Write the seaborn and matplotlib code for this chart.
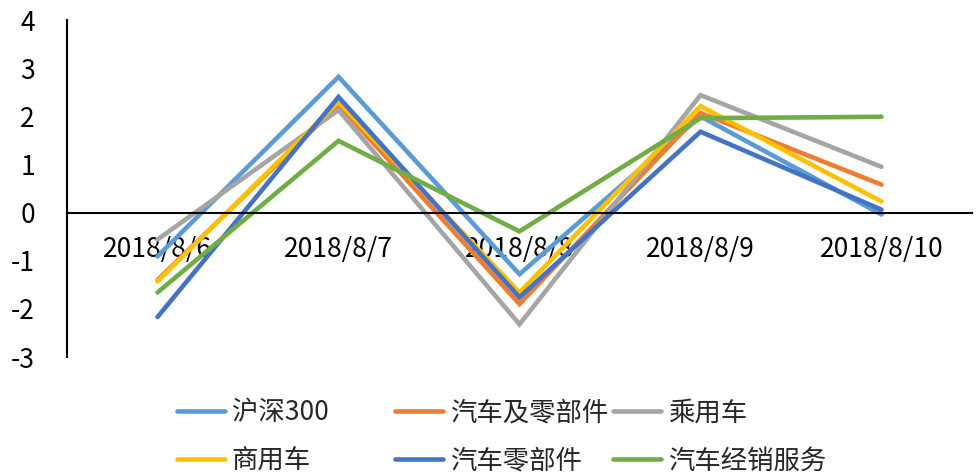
import pandas as pd
import numpy as np
import matplotlib
matplotlib.use('Agg')
import matplotlib.pyplot as plt
import seaborn as sns

# ---data
dates = ['2018/8/6', '2018/8/7', '2018/8/8', '2018/8/9', '2018/8/10']
series_names = ['沪深300', '汽车及零部件', '乘用车', '商用车', '汽车零部件', '汽车经销服务']

hs300 = [-0.91, 2.82, -1.28, 2.00, -0.04]
auto_parts_all = [-1.40, 2.24, -1.90, 2.07, 0.58]
passenger = [-0.56, 2.13, -2.32, 2.44, 0.95]
commercial = [-1.43, 2.30, -1.66, 2.21, 0.23]
auto_parts = [-2.17, 2.40, -1.76, 1.68, 0.06]
dealers = [-1.66, 1.49, -0.39, 1.96, 1.99]

colors = ['#5B9BD5', '#ED7D31', '#A5A5A5', '#FFC000', '#4472C4', '#70AD47']

all_values = [hs300, auto_parts_all, passenger, commercial, auto_parts, dealers]
rows = []
for name, vals in zip(series_names, all_values):
    for d, v in zip(dates, vals):
        rows.append({'date': d, 'series': name, 'value': v})
df = pd.DataFrame(rows)

sns.set_style('white')
plt.rcParams['font.family'] = ['Noto Sans CJK SC', 'DejaVu Sans']
plt.rcParams['axes.unicode_minus'] = False

fig = plt.figure(figsize=(9.78, 4.74), dpi=100)
ax = fig.add_axes([67 / 978, 1 - 357 / 474, (972 - 67) / 978, (357 - 20) / 474])

sns.lineplot(data=df, x='date', y='value', hue='series', hue_order=series_names,
             palette=colors, linewidth=3.3, sort=False, ax=ax, legend=False)
for line in ax.lines:
    line.set_solid_capstyle('round')
    line.set_solid_joinstyle('miter')

ax.set_xlim(-0.5, 4.5)
ax.set_ylim(-3, 4)
ax.set_yticks(range(-3, 5))
ax.set_xlabel('')
ax.set_ylabel('')

# axis styling like the spreadsheet original
ax.spines['top'].set_visible(False)
ax.spines['right'].set_visible(False)
ax.spines['bottom'].set_position(('data', 0))
ax.spines['bottom'].set_color('black')
ax.spines['bottom'].set_linewidth(1.5)
ax.spines['left'].set_color('black')
ax.spines['left'].set_linewidth(1.5)
ax.tick_params(axis='both', length=0, labelsize=19, colors='black')
ax.tick_params(axis='y', pad=23)
ax.tick_params(axis='x', pad=17)

# legend: three columns of equal width, two rows
handles = ax.lines[:6]
for col in range(3):
    idx = [col, col + 3]
    fig.legend([handles[i] for i in idx], [series_names[i] for i in idx],
               loc='center left', bbox_to_anchor=(177 / 978 + col * 218 / 978, 1 - 437 / 474),
               frameon=False, fontsize=19, handlelength=1.82, handletextpad=0.25,
               labelspacing=0.8, borderpad=0, borderaxespad=0)

fig.savefig('out.png', dpi=100)
